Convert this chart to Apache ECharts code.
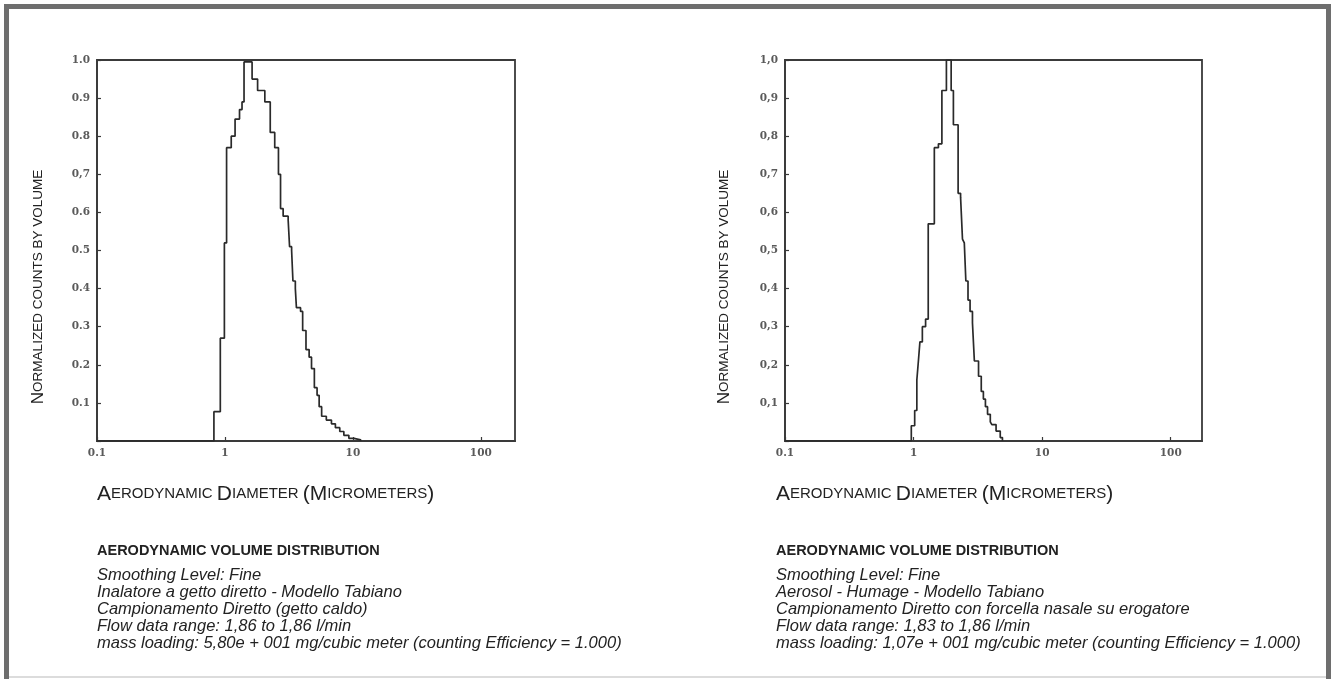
<!DOCTYPE html>
<html><head><meta charset="utf-8">
<script src="https://cdn.jsdelivr.net/npm/echarts@6/dist/echarts.min.js"></script>
<style>html,body{margin:0;padding:0;background:#fff;}#c{width:1335px;height:679px;}</style>
</head><body><div id="c"></div>
<script>
// ---- data ----
const leftDiameters = [0.1, 0.82, 0.92, 0.99, 1.03, 1.12, 1.20, 1.30, 1.36, 1.41, 1.63, 1.80, 2.05, 2.26, 2.45, 2.62, 2.72, 2.85, 3.12, 3.20, 3.32, 3.40, 3.55, 3.62, 3.90, 4.05, 4.30, 4.55, 4.75, 5.0, 5.25, 5.45, 5.7, 6.2, 6.8, 7.3, 7.9, 8.5, 9.3, 10.2, 11.5];
const leftValues    = [0,   0.077,0.27, 0.52, 0.77, 0.80, 0.845,0.87, 0.89, 0.995,0.95, 0.92, 0.89, 0.81, 0.77, 0.70, 0.61, 0.59, 0.58, 0.51, 0.50, 0.42, 0.40, 0.35, 0.34, 0.29, 0.24, 0.22, 0.19, 0.14,0.12, 0.09, 0.065,0.055,0.045,0.035,0.025,0.015,0.007,0.003,0];
const rightDiameters = [0.1, 0.96, 1.02, 1.06, 1.09, 1.12, 1.17, 1.24, 1.30, 1.45, 1.56, 1.66, 1.80, 1.96, 2.04, 2.22, 2.32, 2.40, 2.48, 2.55, 2.65, 2.75, 2.87, 2.97, 3.20, 3.36, 3.49, 3.62, 3.76, 3.95, 4.06, 4.38, 4.72, 4.91];
const rightValues    = [0,   0.04, 0.08, 0.16, 0.21, 0.26, 0.30, 0.32, 0.57, 0.77, 0.78, 0.92, 1.00, 0.92, 0.83, 0.65, 0.64, 0.53, 0.52, 0.42, 0.37, 0.34, 0.31, 0.21, 0.17, 0.13, 0.11, 0.09, 0.07, 0.05, 0.043,0.026,0.009,0];

const leftYTickLabels  = ['', '0.1', '0.2', '0.3', '0.4', '0.5', '0.6', '0,7', '0.8', '0.9', '1.0'];
const rightYTickLabels = ['', '0,1', '0,2', '0,3', '0,4', '0,5', '0,6', '0,7', '0,8', '0,9', '1,0'];
const xTickValues = [0.1, 1, 10, 100];
const leftXTickLabels  = ['0.1', '1', '10', '100'];
const rightXTickLabels = ['0.1', '1', '10', '100'];

const yTitle = ['N', 'ORMALIZED COUNTS BY VOLUME'];
const xTitle = [['A','big'],['ERODYNAMIC ','sm'],['D','big'],['IAMETER ','sm'],['(M','big'],['ICROMETERS','sm'],[')','big']];
const header = 'AERODYNAMIC VOLUME DISTRIBUTION';
const leftInfo = ['Smoothing Level: Fine', 'Inalatore a getto diretto - Modello Tabiano', 'Campionamento Diretto (getto caldo)', 'Flow data range: 1,86 to 1,86 l/min', 'mass loading: 5,80e + 001 mg/cubic meter (counting Efficiency = 1.000)'];
const rightInfo = ['Smoothing Level: Fine', 'Aerosol - Humage - Modello Tabiano', 'Campionamento Diretto con forcella nasale su erogatore', 'Flow data range: 1,83 to 1,86 l/min', 'mass loading: 1,07e + 001 mg/cubic meter (counting Efficiency = 1.000)'];

// ---- chart ----
const chart = echarts.init(document.getElementById('c'), null, {renderer: 'canvas'});
const lineCol = '#3a3a3a';
const tickFont = {fontFamily: 'DejaVu Serif', fontSize: 10.5, fontWeight: 'bold', color: '#5a5a5a'};

function xAxisCfg(gi, labels, max) {
  return {
    type: 'log', logBase: 10, gridIndex: gi, min: 0.1, max: max,
    axisLine: {show: true, lineStyle: {color: lineCol, width: 1.8}},
    axisTick: {show: true, inside: true, length: 4, lineStyle: {color: lineCol, width: 1.2}},
    minorTick: {show: false}, splitLine: {show: false},
    axisLabel: Object.assign({margin: 7, showMaxLabel: false, formatter: function (v) {
      for (let i = 0; i < xTickValues.length; i++) if (Math.abs(Math.log10(v) - Math.log10(xTickValues[i])) < 1e-6) return labels[i];
      return '';
    }}, tickFont)
  };
}
function yAxisCfg(gi, labels) {
  return {
    type: 'value', gridIndex: gi, min: 0, max: 1, interval: 0.1,
    axisLine: {show: true, lineStyle: {color: lineCol, width: 1.8}},
    axisTick: {show: true, inside: true, length: 4, lineStyle: {color: lineCol, width: 1.2}},
    splitLine: {show: false},
    axisLabel: Object.assign({margin: 7, formatter: function (v) { return labels[Math.round(v * 10)]; }}, tickFont)
  };
}

const graphics = [];
// frame
graphics.push({type: 'line', shape: {x1: 6.5, y1: 4, x2: 6.5, y2: 679}, style: {stroke: '#6e6e6e', lineWidth: 5}});
graphics.push({type: 'line', shape: {x1: 4, y1: 6.5, x2: 1331, y2: 6.5}, style: {stroke: '#6e6e6e', lineWidth: 5}});
graphics.push({type: 'line', shape: {x1: 1328.5, y1: 4, x2: 1328.5, y2: 679}, style: {stroke: '#6e6e6e', lineWidth: 5}});
graphics.push({type: 'line', shape: {x1: 9, y1: 677, x2: 1326, y2: 677}, style: {stroke: '#dcdcdc', lineWidth: 2}});

function addTexts(x0, ytX, info) {
  graphics.push({type: 'text', x: ytX, y: 287, rotation: Math.PI / 2, style: {
    text: '{big|' + yTitle[0] + '}{sm|' + yTitle[1] + '}', align: 'center', verticalAlign: 'middle',
    rich: {big: {fontFamily: 'Liberation Sans', fontSize: 17, fill: '#222'}, sm: {fontFamily: 'Liberation Sans', fontSize: 13.5, fill: '#222'}}
  }});
  graphics.push({type: 'text', x: x0, y: 494, style: {
    text: xTitle.map(p => '{' + p[1] + '|' + p[0] + '}').join(''), align: 'left', verticalAlign: 'middle',
    rich: {big: {fontFamily: 'Liberation Sans', fontSize: 21, fill: '#222'}, sm: {fontFamily: 'Liberation Sans', fontSize: 15, fill: '#222'}}
  }});
  graphics.push({type: 'text', x: x0, y: 551, style: {text: header, fontFamily: 'Liberation Sans', fontWeight: 'bold', fontSize: 14.5, fill: '#222', align: 'left', verticalAlign: 'middle'}});
  info.forEach(function (t, i) {
    graphics.push({type: 'text', x: x0, y: 575 + i * 17, style: {text: t, fontFamily: 'Liberation Sans', fontStyle: 'italic', fontSize: 16.5, fill: '#222', align: 'left', verticalAlign: 'middle'}});
  });
}
addTexts(97, 38, leftInfo);
addTexts(776, 724, rightInfo);

function zip(a, b) { return a.map((v, i) => [v, b[i]]); }

chart.setOption({
  animation: false,
  backgroundColor: '#fff',
  grid: [
    {left: 97, top: 60, width: 418, height: 381, show: true, borderColor: lineCol, borderWidth: 1.8, containLabel: false, outerBoundsMode: 'none'},
    {left: 785, top: 60, width: 417, height: 381, show: true, borderColor: lineCol, borderWidth: 1.8, containLabel: false, outerBoundsMode: 'none'}
  ],
  xAxis: [xAxisCfg(0, leftXTickLabels, 185), xAxisCfg(1, rightXTickLabels, 175)],
  yAxis: [yAxisCfg(0, leftYTickLabels), yAxisCfg(1, rightYTickLabels)],
  series: [
    {type: 'line', xAxisIndex: 0, yAxisIndex: 0, step: 'end', showSymbol: false, symbol: 'none', data: zip(leftDiameters, leftValues), lineStyle: {color: '#2a2a2a', width: 1.7}},
    {type: 'line', xAxisIndex: 1, yAxisIndex: 1, step: 'end', showSymbol: false, symbol: 'none', data: zip(rightDiameters, rightValues), lineStyle: {color: '#2a2a2a', width: 1.7}}
  ],
  graphic: graphics
});
</script>
</body></html>
